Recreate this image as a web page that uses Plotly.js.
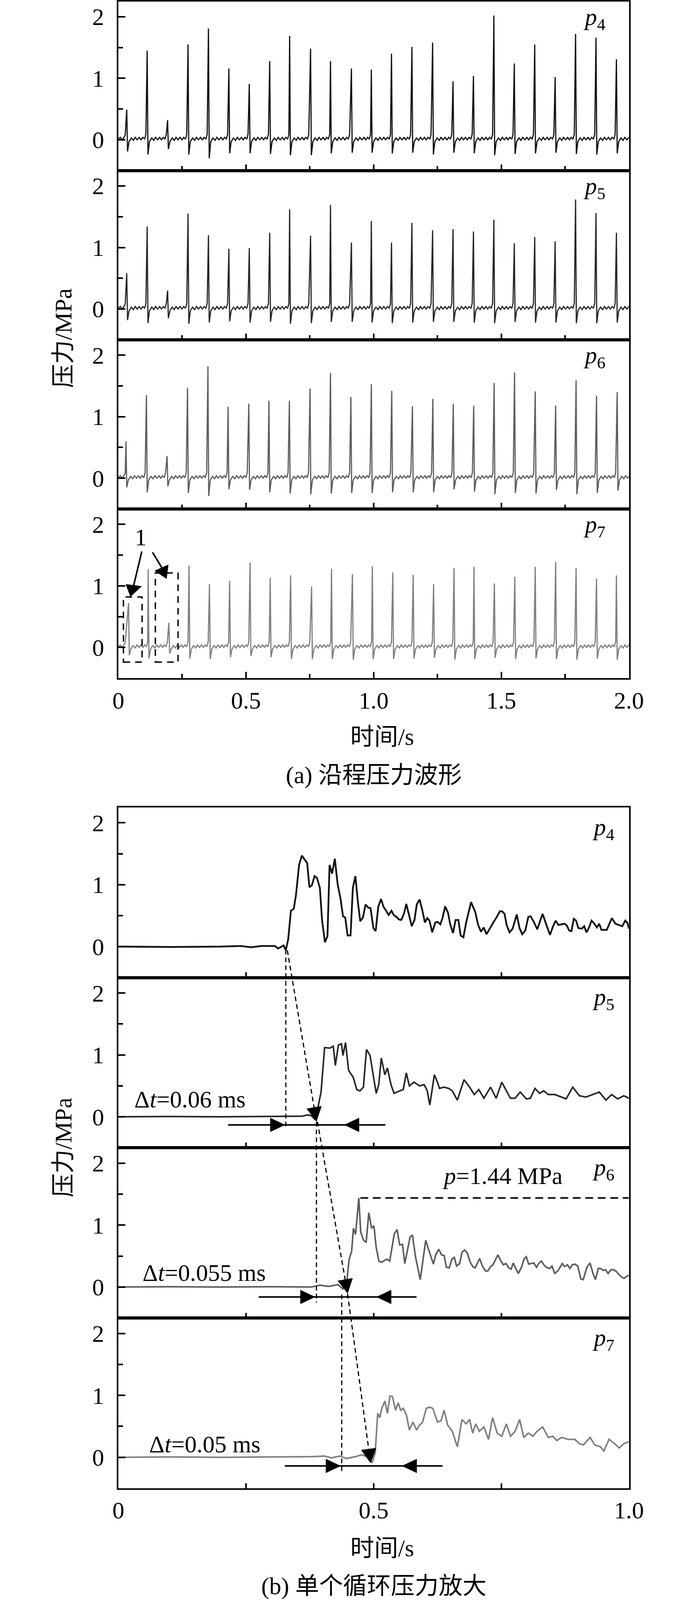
<!DOCTYPE html>
<html><head><meta charset="utf-8">
<script src="https://cdn.plot.ly/plotly-3.0.1.min.js"></script>
<style>html,body{margin:0;padding:0;background:#fff;overflow:hidden}#chart{width:1772px}</style>
</head><body><div id="chart"></div>
<script>
// ---------- DATA ----------
// (a) spike trains: spike times (s), peak values and trough values (MPa)
const p4T = [0.033,0.113,0.193,0.273,0.353,0.433,0.513,0.593,0.671,0.753,0.831,0.913,0.991,1.070,1.150,1.231,1.311,1.391,1.471,1.551,1.631,1.711,1.791,1.871,1.951];
const p4Peak = [0.49,1.45,0.32,1.55,1.81,1.16,0.91,1.28,1.69,1.48,1.28,1.16,1.14,1.40,1.51,1.58,0.95,1.04,2.02,1.24,1.55,1.02,1.72,1.66,1.31];
const p4Trough = [-0.19,-0.24,-0.15,-0.24,-0.30,-0.22,-0.22,-0.23,-0.25,-0.25,-0.22,-0.21,-0.21,-0.22,-0.21,-0.24,-0.21,-0.22,-0.25,-0.23,-0.22,-0.21,-0.23,-0.24,-0.22];

const p5T = [0.033,0.113,0.193,0.273,0.353,0.433,0.513,0.593,0.671,0.753,0.831,0.913,0.991,1.070,1.150,1.231,1.311,1.391,1.471,1.551,1.631,1.711,1.791,1.871,1.951];
const p5Peak = [0.58,1.34,0.30,1.55,1.20,0.98,0.99,1.24,1.62,1.19,1.69,1.08,1.43,1.08,1.40,1.28,1.30,1.26,1.45,1.07,1.17,1.10,1.78,1.56,1.24];
const p5Trough = [-0.18,-0.23,-0.15,-0.24,-0.22,-0.20,-0.22,-0.21,-0.24,-0.23,-0.21,-0.21,-0.22,-0.23,-0.22,-0.21,-0.21,-0.22,-0.23,-0.21,-0.22,-0.22,-0.23,-0.23,-0.22];

const p6T = [0.030,0.110,0.191,0.271,0.351,0.430,0.511,0.590,0.670,0.751,0.831,0.911,0.991,1.071,1.152,1.232,1.312,1.392,1.472,1.552,1.633,1.713,1.793,1.873,1.954];
const p6Peak = [0.60,1.35,0.36,1.47,1.82,1.16,1.21,1.26,1.26,1.46,1.71,1.32,1.53,1.42,1.17,1.29,1.21,1.18,1.55,1.72,1.41,1.18,1.59,1.34,1.40];
const p6Trough = [-0.15,-0.23,-0.13,-0.24,-0.29,-0.18,-0.19,-0.23,-0.25,-0.26,-0.25,-0.24,-0.24,-0.23,-0.23,-0.23,-0.18,-0.22,-0.26,-0.24,-0.25,-0.19,-0.26,-0.24,-0.20];

const p7T = [0.040,0.117,0.198,0.277,0.357,0.436,0.516,0.595,0.675,0.757,0.835,0.917,0.995,1.075,1.155,1.235,1.315,1.393,1.473,1.553,1.633,1.713,1.793,1.873,1.951];
const p7Peak = [0.72,1.27,0.40,1.33,1.03,1.08,1.38,1.13,1.17,0.99,1.28,1.19,1.32,1.22,1.18,1.03,1.29,1.31,1.04,1.15,1.31,1.39,1.29,1.12,1.17];
const p7Trough = [-0.13,-0.18,-0.10,-0.18,-0.19,-0.16,-0.14,-0.16,-0.19,-0.19,-0.19,-0.20,-0.19,-0.19,-0.18,-0.17,-0.20,-0.19,-0.17,-0.19,-0.18,-0.19,-0.20,-0.18,-0.20];

const rippleDt = [0.009,0.018,0.026,0.033,0.041,0.049,0.056,0.063,0.070,0.075];
const rippleV  = [-0.03,0.03,-0.01,0.04,0.00,0.04,0.00,0.04,0.01,0.09];
const leadT = [0,0.008,0.015,0.022,0.027];
const leadV = [0.02,0.04,0.00,0.04,0.08];

// (b) single cycle traces [time, pressure]
const p4bPts = [[0,0],[0.10,-0.005],[0.20,0],[0.24,0.01],[0.26,-0.01],[0.28,0.01],[0.300,0.01],[0.3065,0.01],[0.313,-0.03],[0.3237,0.02],[0.328,-0.06],[0.3327,0.12],[0.338,0.58],[0.3436,0.61],[0.348,0.84],[0.354,1.32],[0.3594,1.47],[0.3643,1.41],[0.3698,1.35],[0.3743,0.96],[0.379,0.99],[0.3843,1.14],[0.389,1.11],[0.3947,0.95],[0.399,0.43],[0.4046,0.07],[0.4096,0.17],[0.4137,1.32],[0.4186,1.18],[0.424,1.42],[0.4295,1.01],[0.4353,0.77],[0.440,0.49],[0.4444,0.47],[0.449,0.18],[0.4548,0.18],[0.4593,0.95],[0.4643,1.14],[0.4693,0.71],[0.4738,0.41],[0.479,0.47],[0.4842,0.68],[0.4896,0.63],[0.494,0.62],[0.4995,0.30],[0.504,0.25],[0.509,0.64],[0.5145,0.77],[0.519,0.65],[0.5244,0.58],[0.5294,0.51],[0.535,0.58],[0.5393,0.51],[0.5448,0.48],[0.5493,0.44],[0.5542,0.43],[0.5597,0.54],[0.564,0.69],[0.5696,0.49],[0.5746,0.33],[0.58,0.43],[0.5845,0.68],[0.59,0.76],[0.595,0.60],[0.6004,0.39],[0.605,0.46],[0.6094,0.42],[0.6148,0.23],[0.6207,0.39],[0.6252,0.40],[0.6306,0.36],[0.6352,0.47],[0.640,0.65],[0.6456,0.55],[0.650,0.36],[0.6555,0.22],[0.6605,0.43],[0.666,0.43],[0.6704,0.18],[0.6758,0.15],[0.681,0.38],[0.6908,0.72],[0.699,0.56],[0.7044,0.36],[0.7102,0.24],[0.7157,0.31],[0.7211,0.20],[0.727,0.29],[0.7337,0.38],[0.7405,0.47],[0.7473,0.57],[0.7518,0.57],[0.7563,0.53],[0.7608,0.34],[0.7663,0.23],[0.7722,0.29],[0.7803,0.52],[0.7857,0.30],[0.791,0.20],[0.797,0.26],[0.8029,0.48],[0.8074,0.49],[0.8137,0.40],[0.8205,0.28],[0.8264,0.43],[0.8309,0.53],[0.8363,0.40],[0.8454,0.19],[0.851,0.32],[0.8566,0.42],[0.8617,0.35],[0.867,0.36],[0.874,0.37],[0.8784,0.34],[0.883,0.26],[0.8874,0.25],[0.892,0.45],[0.8965,0.42],[0.901,0.30],[0.9078,0.29],[0.9124,0.33],[0.9168,0.23],[0.9214,0.30],[0.9268,0.42],[0.9313,0.38],[0.9372,0.31],[0.9417,0.37],[0.9462,0.27],[0.9566,0.27],[0.9666,0.46],[0.9734,0.37],[0.980,0.35],[0.9869,0.33],[0.9928,0.42],[0.9973,0.38],[1.0,0.29]];

const p5bPts = [[0,0],[0.1,0.005],[0.2,0],[0.3,0.005],[0.36,0.01],[0.37,0.03],[0.378,0.02],[0.386,-0.05],[0.397,0.40],[0.404,1.12],[0.414,1.11],[0.421,1.14],[0.425,0.83],[0.431,1.16],[0.437,1.18],[0.440,0.99],[0.445,1.20],[0.451,0.75],[0.460,0.64],[0.467,0.44],[0.473,0.42],[0.480,0.48],[0.486,1.09],[0.493,0.99],[0.499,0.68],[0.505,0.38],[0.510,0.52],[0.515,0.95],[0.522,0.68],[0.527,0.79],[0.534,0.52],[0.540,0.38],[0.551,0.42],[0.558,0.44],[0.564,0.71],[0.570,0.50],[0.579,0.56],[0.590,0.50],[0.599,0.52],[0.605,0.42],[0.610,0.19],[0.619,0.68],[0.625,0.56],[0.629,0.46],[0.638,0.48],[0.647,0.46],[0.654,0.42],[0.664,0.27],[0.677,0.60],[0.688,0.48],[0.697,0.36],[0.706,0.44],[0.716,0.30],[0.729,0.48],[0.740,0.30],[0.751,0.56],[0.760,0.42],[0.768,0.30],[0.777,0.30],[0.787,0.40],[0.799,0.29],[0.807,0.30],[0.816,0.46],[0.825,0.38],[0.833,0.42],[0.842,0.36],[0.855,0.36],[0.868,0.32],[0.877,0.29],[0.890,0.48],[0.903,0.34],[0.916,0.32],[0.929,0.36],[0.942,0.40],[0.955,0.27],[0.966,0.36],[0.978,0.29],[0.990,0.34],[1.0,0.30]];

const p6bPts = [[0,0],[0.1,0.005],[0.2,0],[0.3,0.005],[0.378,0.0],[0.395,0.03],[0.412,0.01],[0.43,0.04],[0.440,-0.03],[0.447,0.06],[0.452,0.45],[0.457,0.58],[0.4604,0.95],[0.4646,0.85],[0.471,1.44],[0.4747,0.89],[0.480,0.76],[0.4853,0.72],[0.4906,1.20],[0.496,0.95],[0.5006,0.99],[0.505,0.64],[0.5103,0.42],[0.5157,0.40],[0.521,0.43],[0.5262,0.45],[0.5315,0.42],[0.5405,0.86],[0.5458,0.93],[0.5511,0.68],[0.5565,0.69],[0.5611,0.38],[0.5714,0.81],[0.576,0.84],[0.582,0.49],[0.5913,0.12],[0.602,0.755],[0.610,0.54],[0.617,0.37],[0.622,0.53],[0.6277,0.61],[0.633,0.52],[0.638,0.51],[0.6425,0.32],[0.648,0.31],[0.6533,0.45],[0.658,0.48],[0.6625,0.34],[0.6685,0.38],[0.673,0.56],[0.678,0.60],[0.6834,0.55],[0.6888,0.41],[0.6942,0.33],[0.6988,0.31],[0.7077,0.46],[0.713,0.34],[0.7191,0.26],[0.7237,0.26],[0.729,0.33],[0.7337,0.36],[0.7433,0.52],[0.7487,0.43],[0.754,0.36],[0.7593,0.38],[0.7647,0.31],[0.7693,0.29],[0.7735,0.39],[0.7788,0.29],[0.7835,0.22],[0.7895,0.32],[0.795,0.46],[0.799,0.49],[0.8037,0.37],[0.809,0.38],[0.8137,0.39],[0.819,0.32],[0.8233,0.38],[0.8286,0.42],[0.8333,0.36],[0.8383,0.32],[0.8447,0.30],[0.8493,0.34],[0.8546,0.22],[0.8607,0.26],[0.8653,0.32],[0.8696,0.38],[0.8739,0.33],[0.8795,0.36],[0.8845,0.30],[0.8891,0.36],[0.8945,0.37],[0.8998,0.34],[0.9059,0.13],[0.9105,0.12],[0.9177,0.32],[0.9237,0.39],[0.9293,0.23],[0.9343,0.12],[0.94,0.30],[0.9443,0.30],[0.9496,0.27],[0.9542,0.28],[0.9592,0.22],[0.9649,0.28],[0.970,0.28],[0.9756,0.25],[0.9806,0.20],[0.986,0.16],[0.9906,0.14],[0.9948,0.17],[1.0,0.19]];

const p7bPts = [[0,0],[0.1,0.005],[0.2,0],[0.3,0.005],[0.378,0.01],[0.404,0.02],[0.417,-0.01],[0.434,0.02],[0.447,-0.02],[0.464,0.01],[0.477,0.04],[0.490,0.0],[0.497,-0.09],[0.503,0.07],[0.508,0.71],[0.512,0.64],[0.516,0.79],[0.522,0.91],[0.527,0.71],[0.532,0.99],[0.537,0.98],[0.543,0.76],[0.548,0.88],[0.553,0.76],[0.558,0.79],[0.564,0.69],[0.570,0.44],[0.577,0.57],[0.584,0.44],[0.590,0.52],[0.596,0.57],[0.603,0.79],[0.610,0.81],[0.616,0.79],[0.625,0.57],[0.632,0.59],[0.638,0.76],[0.645,0.52],[0.654,0.42],[0.664,0.17],[0.673,0.61],[0.681,0.54],[0.688,0.61],[0.694,0.39],[0.700,0.54],[0.707,0.42],[0.716,0.49],[0.725,0.29],[0.733,0.64],[0.742,0.39],[0.751,0.34],[0.760,0.54],[0.768,0.34],[0.777,0.42],[0.786,0.61],[0.794,0.32],[0.803,0.39],[0.812,0.34],[0.820,0.42],[0.831,0.49],[0.842,0.32],[0.851,0.34],[0.859,0.27],[0.868,0.32],[0.881,0.29],[0.894,0.29],[0.903,0.22],[0.911,0.20],[0.924,0.32],[0.933,0.20],[0.944,0.17],[0.951,0.10],[0.961,0.29],[0.972,0.22],[0.981,0.15],[0.990,0.22],[1.0,0.25]];

// tick labels
const xTickValsA = [0,0.5,1,1.5,2];
const xTickTextA = ['0','0.5','1.0','1.5','2.0'];
const xTickValsB = [0,0.5,1];
const xTickTextB = ['0','0.5','1.0'];
const panelNames = ['4','5','6','7'];
const seriesColors = ['#111111','#262626','#5c5c5c','#7f7f7f'];

// ---------- LAYOUT GEOMETRY (reference pixels, scaled to the viewport) ----------
const W = 1772, REF_H = 4681;
const H = Math.min(REF_H, window.innerHeight || REF_H);
const k = H / REF_H;                       // vertical fit factor
document.getElementById('chart').style.height = H + 'px';
const xL = 303, xR = 1610.5;
const topA = [4,499,994,1489], hA = 495;
const topB = [2362,2860,3358,3856], hB = 498;
const YR = [-0.5, 2.25];
const FONT = 'Liberation Serif, "Noto Sans CJK SC", serif';
const FS = 70 * k;                          // text size

function pyFrac(px){ return 1 - px/REF_H; }
function dom(top, h){ return [pyFrac(top+h), pyFrac(top)]; }

function buildTrain(T, P, Tr){
  const x=[], y=[];
  for(let i=0;i<leadT.length;i++){ if(leadT[i] < T[0]-0.002){ x.push(leadT[i]); y.push(leadV[i]); } }
  for(let i=0;i<T.length;i++){
    x.push(T[i]); y.push(P[i]);
    x.push(T[i]+0.003); y.push(Tr[i]);
    for(let j=0;j<rippleDt.length;j++){
      const tt = T[i]+rippleDt[j];
      if(i<T.length-1 && tt >= T[i+1]-0.001) break;
      x.push(tt); y.push(rippleV[j]);
    }
  }
  return {x,y};
}

const trainsA = [buildTrain(p4T,p4Peak,p4Trough), buildTrain(p5T,p5Peak,p5Trough),
                 buildTrain(p6T,p6Peak,p6Trough), buildTrain(p7T,p7Peak,p7Trough)];
const ptsB = [p4bPts,p5bPts,p6bPts,p7bPts];

const data = [];
const layout = {
  width: W, height: H, margin:{l:0,r:0,t:0,b:0},
  paper_bgcolor:'#fff', plot_bgcolor:'rgba(0,0,0,0)', showlegend:false,
  font:{family:FONT, color:'#000', size:FS},
  shapes:[], annotations:[]
};

function axisPair(idx, top, h, isA, showX){
  const s = idx===1 ? '' : String(idx);
  layout['xaxis'+s] = {
    domain:[xL/W, xR/W], anchor:'y'+s, range: isA?[0,2]:[0,1],
    showline:true, linewidth:4, linecolor:'#000', mirror:true,
    ticks:'inside', ticklen: (isA?18:15)*k, tickwidth:4, tickcolor:'#000',
    tickmode:'array', tickvals: isA?xTickValsA:xTickValsB, ticktext: isA?xTickTextA:xTickTextB,
    minor:{tickmode:'linear', tick0:0, dtick:0.25, ticks:'inside', ticklen:(isA?13:15)*k, tickwidth:4, tickcolor:'#000', showgrid:false},
    showticklabels: showX, showgrid:false, zeroline:false, fixedrange:true,
    tickfont:{family:FONT, size:FS, color:'#000'}, ticklabelstandoff: 12*k
  };
  layout['yaxis'+s] = {
    domain: dom(top,h), anchor:'x'+s, range: YR,
    showline:true, linewidth:4, linecolor:'#000', mirror:true,
    ticks:'inside', ticklen:18, tickwidth:4, tickcolor:'#000',
    tickmode:'linear', tick0:0, dtick:1,
    minor:{tickmode:'linear', tick0:0, dtick:0.5, ticks:'inside', ticklen:12, tickwidth:4, tickcolor:'#000', showgrid:false},
    showgrid:false, zeroline:false, fixedrange:true,
    tickfont:{family:FONT, size:FS, color:'#000'}, ticklabelstandoff: 20
  };
  return s;
}

for(let k2=0;k2<4;k2++){
  const s = axisPair(k2+1, topA[k2], hA, true, k2===3);
  data.push({type:'scatter', mode:'lines', x:trainsA[k2].x, y:trainsA[k2].y,
    xaxis:'x'+s, yaxis:'y'+s,
    line:{color:seriesColors[k2], width:3}, hoverinfo:'skip'});
  layout.annotations.push({xref:'paper', yref:'paper', x:1522/W, y:pyFrac(topA[k2]+50),
    xanchor:'center', yanchor:'middle', showarrow:false,
    text:'<i>p</i><sub>'+panelNames[k2]+'</sub>', font:{family:FONT,size:FS,color:'#000'}});
}
for(let k2=0;k2<4;k2++){
  const s = axisPair(k2+5, topB[k2], hB, false, k2===3);
  const pts = ptsB[k2];
  data.push({type:'scatter', mode:'lines', x:pts.map(p=>p[0]), y:pts.map(p=>p[1]),
    xaxis:'x'+s, yaxis:'y'+s,
    line:{color:seriesColors[k2], width: k2===0?4.5:4}, hoverinfo:'skip'});
  layout.annotations.push({xref:'paper', yref:'paper', x:1545/W, y:pyFrac(topB[k2]+62),
    xanchor:'center', yanchor:'middle', showarrow:false,
    text:'<i>p</i><sub>'+panelNames[k2]+'</sub>', font:{family:FONT,size:FS,color:'#000'}});
}

// ---------- TEXTS ----------
function paperText(text, xpx, ypx, angle){
  layout.annotations.push({xref:'paper', yref:'paper', x:xpx/W, y:pyFrac(ypx),
    xanchor:'center', yanchor:'middle', showarrow:false, text:text, textangle: angle||0,
    font:{family:FONT, size:FS, color:'#000'}});
}
paperText('时间/s', 978, 2155);
paperText('(a) 沿程压力波形', 957, 2268);
paperText('压力/MPa', 162, 990, -90);
paperText('时间/s', 978, 4529);
paperText('(b) 单个循环压力放大', 957, 4640);
paperText('压力/MPa', 162, 3358, -90);

// (a) p7 markers: dashed boxes, label "1", arrows
const boxes = [[0.020,0.093,-0.24,0.82],[0.145,0.234,-0.24,1.21]];
boxes.forEach(b=>layout.shapes.push({type:'rect', xref:'x4', yref:'y4', x0:b[0], x1:b[1], y0:b[2], y1:b[3],
  line:{color:'#000', width:3.5, dash:'17px,13px'}, fillcolor:'rgba(0,0,0,0)'}));
layout.annotations.push({xref:'x4', yref:'y4', x:0.088, y:1.79, showarrow:false, text:'1',
  xanchor:'center', yanchor:'middle', font:{family:FONT,size:FS,color:'#000'}});
layout.shapes.push({type:'line', xref:'x4', yref:'y4', x0:0.0919, y0:1.56, x1:0.0602, y1:1.008, line:{color:'#000',width:4}});
layout.shapes.push({type:'path', xref:'x4', yref:'y4', path:'M0.0475,0.825 L0.0296,1.025 L0.0908,0.992 Z', fillcolor:'#000', line:{color:'#000',width:1}});
layout.shapes.push({type:'line', xref:'x4', yref:'y4', x0:0.134, y0:1.545, x1:0.170, y1:1.298, line:{color:'#000',width:4}});
layout.shapes.push({type:'path', xref:'x4', yref:'y4', path:'M0.1429,1.244 L0.1956,1.341 L0.1888,1.118 Z', fillcolor:'#000', line:{color:'#000',width:1}});

// (b) helpers for cross-panel dashed guides
function bxPaper(t){ return (xL + t*(xR-xL))/W; }
function byRefPx(kk, v){ return topB[kk] + (YR[1]-v)/(YR[1]-YR[0])*hB; }
function byPaper(kk, v){ return pyFrac(byRefPx(kk,v)); }
function headPixelPath(dxs, dys, L, Wd){
  const n = Math.hypot(dxs,dys), ux = dxs/n, uy = dys/n;
  const bx = -ux*L, by = uy*L;           // y-up pixel coords
  const px = -uy*Wd/2, py = -ux*Wd/2;
  return 'M0,0 L'+(bx+px).toFixed(2)+','+(by+py).toFixed(2)+' L'+(bx-px).toFixed(2)+','+(by-py).toFixed(2)+' Z';
}
function dashedV(t, k0, v0, k1, v1){
  layout.shapes.push({type:'line', xref:'paper', yref:'paper', x0:bxPaper(t), x1:bxPaper(t),
    y0:byPaper(k0,v0), y1:byPaper(k1,v1), line:{color:'#000', width:3, dash:'12px,8px'}});
}
function dashedArrow(t0, k0, v0, t1, k1, v1){
  layout.shapes.push({type:'line', xref:'paper', yref:'paper', x0:bxPaper(t0), x1:bxPaper(t1),
    y0:byPaper(k0,v0), y1:byPaper(k1,v1), line:{color:'#000', width:3, dash:'12px,8px'}});
  const dxs = (t1-t0)*(xR-xL), dys = (byRefPx(k1,v1)-byRefPx(k0,v0))*k;
  layout.shapes.push({type:'path', xref:'paper', yref:'paper', xsizemode:'pixel', ysizemode:'pixel',
    xanchor:bxPaper(t1), yanchor:byPaper(k1,v1), path:headPixelPath(dxs,dys,36*k+4,38),
    fillcolor:'#000', line:{color:'#000', width:1}});
}
dashedV(0.328, 0, -0.05, 1, -0.20);
dashedArrow(0.331, 0, -0.06, 0.388, 1, -0.07);
dashedV(0.388, 1, -0.08, 2, -0.25);
dashedArrow(0.390, 1, -0.08, 0.449, 2, -0.10);
dashedV(0.4375, 2, -0.12, 3, -0.24);
dashedArrow(0.449, 2, -0.11, 0.494, 3, -0.09);

// Δt measurement bars: [axis suffix, y, x0, x1, right-tip, left-tip]
const dtBars = [['6',-0.13,0.215,0.523,0.326,0.443],['7',-0.16,0.275,0.584,0.385,0.506],['8',-0.14,0.326,0.635,0.435,0.556]];
const hh = (20*k).toFixed(2);
dtBars.forEach(b=>{
  layout.shapes.push({type:'line', xref:'x'+b[0], yref:'y'+b[0], x0:b[2], x1:b[3], y0:b[1], y1:b[1], line:{color:'#000',width:4}});
  layout.shapes.push({type:'path', xref:'x'+b[0], yref:'y'+b[0], xsizemode:'pixel', ysizemode:'pixel',
    xanchor:b[4], yanchor:b[1], path:'M0,0 L-37,'+hh+' L-37,-'+hh+' Z', fillcolor:'#000', line:{color:'#000',width:1}});
  layout.shapes.push({type:'path', xref:'x'+b[0], yref:'y'+b[0], xsizemode:'pixel', ysizemode:'pixel',
    xanchor:b[5], yanchor:b[1], path:'M0,0 L37,'+hh+' L37,-'+hh+' Z', fillcolor:'#000', line:{color:'#000',width:1}});
});
const dtLabels = [['6',0.030,0.285,'Δ<i>t</i>=0.06 ms'],['7',0.046,0.23,'Δ<i>t</i>=0.055 ms'],['8',0.059,0.21,'Δ<i>t</i>=0.05 ms']];
dtLabels.forEach(l=>layout.annotations.push({xref:'x'+l[0], yref:'y'+l[0], x:l[1], y:l[2], xanchor:'left', yanchor:'middle',
  showarrow:false, text:l[3], font:{family:FONT,size:FS,color:'#000'}}));

// peak marker in (b) p6
layout.shapes.push({type:'line', xref:'x7', yref:'y7', x0:0.474, x1:1.0, y0:1.44, y1:1.44, line:{color:'#000',width:4,dash:'20px,12px'}});
layout.annotations.push({xref:'x7', yref:'y7', x:0.633, y:1.80, xanchor:'left', yanchor:'middle', showarrow:false,
  text:'<i>p</i>=1.44 MPa', font:{family:FONT,size:FS,color:'#000'}});

Plotly.newPlot('chart', data, layout, {displayModeBar:false, staticPlot:true});
</script></body></html>
